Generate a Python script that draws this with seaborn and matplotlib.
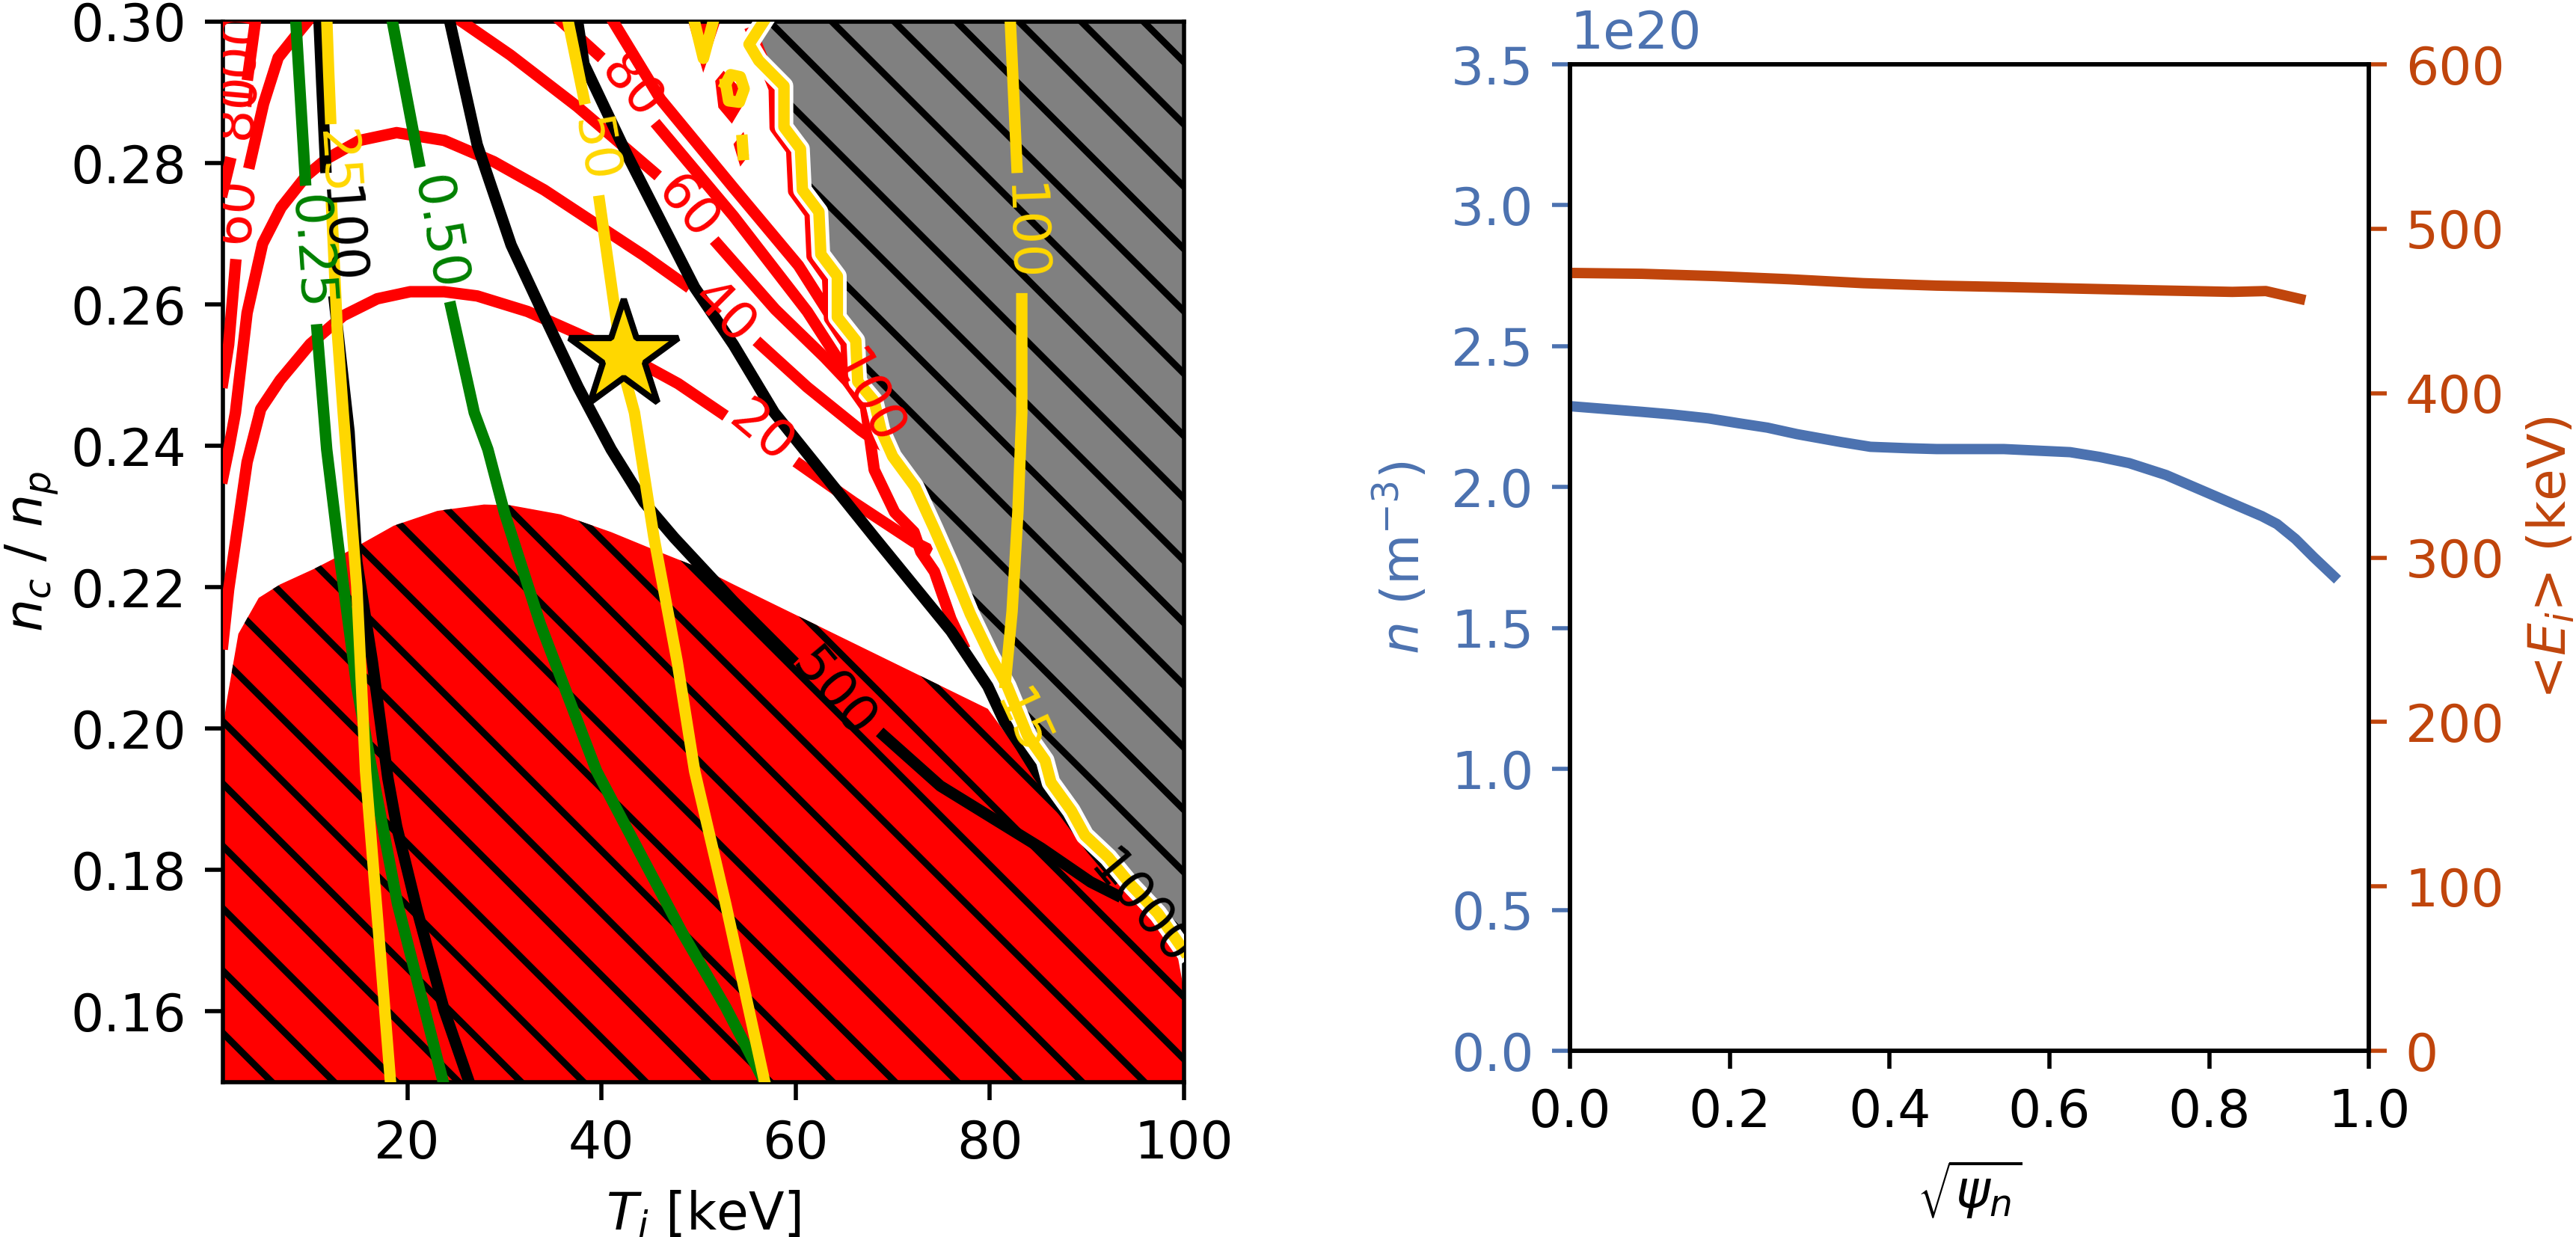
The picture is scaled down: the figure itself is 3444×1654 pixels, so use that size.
import numpy as np
import pandas as pd
import seaborn as sns
import matplotlib
matplotlib.use("Agg")
import matplotlib.pyplot as plt

nan = np.nan

"""
Left panel: traces read off the picture, T_i [keV] vs n_c/n_p.
NaN breaks a trace where the inline contour label sits.
"""
# hatched red region (lower left)
red_fill_T = [1, 1, 1.4, 2.6, 4.7, 6.9, 10.4, 13.8, 18.6, 23.1, 27.9, 30.6, 35.8, 41.0, 46.5,
              50.7, 53.6, 79.8, 82.6, 85.0, 85.7, 87.8, 89.2, 91.6, 94.0, 96.7, 99.4, 100, 100]
red_fill_nc = [0.150, 0.200, 0.2039, 0.2134, 0.2185, 0.2204, 0.2226, 0.2250, 0.2287, 0.2308, 0.2317,
               0.2316, 0.2303, 0.2278, 0.2247, 0.2224, 0.2204, 0.2028, 0.1975, 0.1935, 0.1910, 0.1870,
               0.1840, 0.1808, 0.1768, 0.1728, 0.1675, 0.1630, 0.150]

# jagged boundary of the grey region (yellow trace)
edge_T = [56.7, 55.2, 56.2, 58.8, 58.8, 60.5, 60.7, 62.4, 62.6, 64.3, 64.3, 66.2, 66.4, 68.1, 68.8,
          70.0, 72.3, 74.3, 76.0, 78.0, 80.1, 81.8, 83.9, 85.7, 86.3, 88.4, 89.8, 92.2, 94.6, 97.3, 100.0]
edge_nc = [0.3000, 0.2968, 0.2945, 0.2909, 0.2851, 0.2820, 0.2762, 0.2731, 0.2671, 0.2640, 0.2582,
           0.2549, 0.2491, 0.2463, 0.2422, 0.2385, 0.2342, 0.2282, 0.2229, 0.2162, 0.2102, 0.2060,
           0.1990, 0.1955, 0.1924, 0.1884, 0.1849, 0.1818, 0.1778, 0.1739, 0.1686]
grey_fill_T = [57.4, 55.9, 56.9, 59.5, 59.5, 61.2, 61.4, 63.1, 63.3, 65.0, 65.0, 66.9, 67.1, 68.8, 69.5,
               70.7, 73.0, 75.0, 76.7, 78.7, 80.8, 82.5, 84.6, 86.4, 87.0, 89.1, 90.5, 92.9, 95.3, 98.0,
               100.7, 101, 101, 57.4]
grey_fill_nc = [0.3000, 0.2968, 0.2945, 0.2909, 0.2851, 0.2820, 0.2762, 0.2731, 0.2671, 0.2640, 0.2582,
                0.2549, 0.2491, 0.2463, 0.2422, 0.2385, 0.2342, 0.2282, 0.2229, 0.2162, 0.2102, 0.2060,
                0.1990, 0.1955, 0.1924, 0.1884, 0.1849, 0.1818, 0.1778, 0.1739, 0.1686, 0.1686, 0.301, 0.301]

# red contours
red20_T = [1.0, 1.6, 3.5, 4.9, 6.9, 10.0, 13.4, 16.9, 20.3, 23.8, 27.2, 32.4, 37.5, 42.7, 47.9, 52.3,
           nan, 60.5, 66.0, 72.2, 73.5]
red20_nc = [0.212, 0.2197, 0.2377, 0.2452, 0.2493, 0.2544, 0.2584, 0.2608, 0.2618, 0.2618, 0.2612, 0.2590,
            0.2559, 0.2527, 0.2488, 0.2447, nan, 0.2373, 0.2320, 0.2264, 0.2255]
red40_T = [1.0, 1.6, 2.3, 3.5, 5.1, 7.0, 9.6, 11.7, 15.1, 18.9, 23.8, 28.9, 34.1, 39.3, 44.4, 48.6,
           nan, 56.4, 61.2, 66.7, 69.0]
red40_nc = [0.2355, 0.2395, 0.2447, 0.2588, 0.2686, 0.2737, 0.2782, 0.2806, 0.2832, 0.2843, 0.2832,
            0.2802, 0.2762, 0.2715, 0.2669, 0.2628, nan, 0.2543, 0.2483, 0.2422, 0.2400]
red60_T = [1.0, 1.6, 2.3, nan, 3.8, 5.2, 6.7, 8.5, 10.0, nan, 25.1, 30.6, 37.5, 45.4, nan, 52.0, 57.9, 63.0, 66.8]
red60_nc = [0.2490, 0.2543, 0.2656, nan, 0.2800, 0.2884, 0.2949, 0.2980, 0.3005, nan, 0.3005, 0.2953,
            0.2880, 0.2787, nan, 0.2685, 0.2593, 0.2525, 0.2470]
red80_T = [4.4, 3.6, nan, 1.7, 1.0, nan, 35.5, 39.6, nan, 45.9, 53.6, 61.2, 65.3, 66.5]
red80_nc = [0.3005, 0.2925, nan, 0.2800, 0.2760, nan, 0.3005, 0.2954, nan, 0.2851, 0.2725, 0.2590, 0.2503, 0.2480]
red100_T = [41.0, 46.1, 53.6, 60.3, 64.7, 65.8]
red100_nc = [0.3005, 0.2890, 0.2765, 0.2655, 0.2560, 0.2530]
red_edge_T = [55.5, 57.8, 57.9, 59.6, 59.8, 61.5, 61.7, 63.3, 63.5, 65.2, 65.4, 67.2, 68.1, 70.2, 72.2,
              72.9, 74.3, 76.0, 77.2]
red_edge_nc = [0.2985, 0.2905, 0.2850, 0.2818, 0.2760, 0.2728, 0.2668, 0.2637, 0.2580, 0.2545, 0.2490,
               0.2455, 0.2366, 0.2306, 0.2278, 0.2250, 0.2222, 0.2155, 0.2120]

# black contours
black100_T = [10.9, 11.2, 11.6, nan, 12.5, 14.0, 14.8, 16.4, 18.0, 18.9, 21.0, 23.8, 26.5]
black100_nc = [0.3005, 0.2910, 0.2794, nan, 0.2604, 0.2420, 0.2236, 0.2095, 0.1930, 0.1862, 0.1744, 0.1602, 0.1495]
black500_T = [24.3, 27.2, 30.7, 34.1, 37.6, 41.0, 44.4, 47.5, 53.6, 59.5, nan, 69.1, 74.9, 85.3, 90.4, 93.0]
black500_nc = [0.3005, 0.2826, 0.2684, 0.2584, 0.2483, 0.2395, 0.2320, 0.2270, 0.2180, 0.2099, nan,
               0.1990, 0.1919, 0.1831, 0.1783, 0.1765]
black1000_T = [37.5, 38.2, 42.7, 49.6, 53.6, 57.8, 68.1, 76.0, 79.8, 81.5, 83.2, 85.0, 87.5, 90.5, 93.0]
black1000_nc = [0.3005, 0.2940, 0.2810, 0.2624, 0.2543, 0.2447, 0.2271, 0.2138, 0.2060, 0.2010, 0.1975,
                0.1935, 0.1885, 0.1830, 0.1790]

# green contours
green025_T = [8.5, 9.5, nan, 10.7, 11.7, 13.1, 14.8, 16.3, 19.0, 23.8]
green025_nc = [0.3005, 0.2776, nan, 0.2564, 0.2395, 0.2236, 0.2060, 0.1945, 0.1752, 0.1495]
green050_T = [18.4, 21.2, nan, 24.5, 26.9, 28.3, 30.0, 33.7, 39.5, 44.2, 48.3, 52.8, 57.0]
green050_nc = [0.3005, 0.2802, nan, 0.2596, 0.2447, 0.2395, 0.2306, 0.2148, 0.1940, 0.1818, 0.1712, 0.1606, 0.1495]

# yellow contours
gold25_T = [11.7, 11.9, 12.1, nan, 12.2, 12.8, 13.4, 14.8, 15.7, 17.0, 18.3]
gold25_nc = [0.3005, 0.2930, 0.2863, nan, 0.2740, 0.2560, 0.2447, 0.2201, 0.1940, 0.1720, 0.1495]
gold50_T = [36.5, 38.2, nan, 39.8, 42.3, 43.4, 45.4, 47.8, 49.6, 52.8, 56.9]
gold50_nc = [0.3005, 0.2891, nan, 0.2746, 0.2503, 0.2447, 0.2271, 0.2095, 0.1940, 0.1752, 0.1495]
gold100_T = [82.1, 82.8, nan, 83.3, 83.3, 82.9, 82.3, 81.6]
gold100_nc = [0.3005, 0.2794, nan, 0.2608, 0.2447, 0.2307, 0.2166, 0.2065]

# small noisy islands near the top
blob_red_T = [[49.0, 50.5, 52.2], [52.0, 52.6, 54.0, 54.4, 53.4, 52.3], [53.9, 54.5, 54.9, 54.4]]
blob_red_nc = [[0.301, 0.2940, 0.301], [0.2915, 0.2925, 0.2905, 0.2885, 0.2862, 0.2880],
               [0.2826, 0.2836, 0.2812, 0.2803]]
blob_gold_T = [[49.4, 50.5, 51.7], [52.8, 53.3, 54.3, 54.7, 54.2, 53.1, 52.8], [54.5, 54.6]]
blob_gold_nc = [[0.301, 0.2948, 0.301], [0.2912, 0.2925, 0.2922, 0.2905, 0.2886, 0.2888, 0.2912],
                [0.2832, 0.2812]]

# operating point
star_T, star_nc = 42.3, 0.2527

# inline labels: text, T, n_c/n_p, rotation, colour key
contour_labels = [
    ("20", 56.5, 0.2418, -40, "r"), ("40", 52.6, 0.2588, -45, "r"), ("60", 48.8, 0.2737, -50, "r"),
    ("80", 43.0, 0.2907, -50, "r"), ("100", 67.2, 0.2467, -62, "r"),
    ("60", 2.3, 0.2733, 85, "r"), ("80", 2.5, 0.2880, 85, "r"), ("100", 2.4, 0.2950, 85, "r"),
    ("100", 12.9, 0.2697, -86, "k"), ("500", 63.9, 0.2049, -50, "k"), ("1000", 95.5, 0.1745, -50, "k"),
    ("0.25", 10.0, 0.2673, -86, "g"), ("0.50", 23.1, 0.2701, -80, "g"),
    ("25", 12.6, 0.2800, -86, "y"), ("50", 39.2, 0.2818, -80, "y"), ("100", 83.3, 0.2701, -88, "y"),
    ("15", 83.2, 0.2007, -65, "y"),
]

"""
Right panel: profiles vs sqrt(psi_n)
"""
psi_n = [0.005, 0.09, 0.127, 0.173, 0.21, 0.247, 0.284, 0.339, 0.376, 0.422, 0.459, 0.543, 0.626,
         0.663, 0.70, 0.746, 0.792, 0.829, 0.866, 0.885, 0.908, 0.931, 0.956]
dens_1e20 = [2.286, 2.267, 2.258, 2.244, 2.227, 2.211, 2.188, 2.160, 2.143, 2.138, 2.135, 2.135, 2.124,
             2.107, 2.085, 2.043, 1.987, 1.942, 1.897, 1.869, 1.816, 1.751, 1.684]
psi_E = [0.005, 0.09, 0.182, 0.274, 0.367, 0.459, 0.552, 0.644, 0.737, 0.829, 0.871, 0.914]
E_mean = [473.1, 472.6, 471.2, 469.3, 466.9, 465.4, 464.5, 463.5, 462.5, 461.6, 462.1, 457.3]

COLORS = {"r": "#ff0000", "k": "black", "g": "#008000", "y": "#ffd700"}
BLUE = "#4c72b0"
RUST = "#c0450c"

plt.rcParams["hatch.linewidth"] = 1.3
fig = plt.figure(figsize=(3444 / 500, 1654 / 500), dpi=500)

# ---- left panel ----
ax = fig.add_axes([0.0865, 0.1252, 0.3731, 0.8573])
ax.fill(red_fill_T, red_fill_nc, facecolor="red", edgecolor="black", hatch="\\\\", linewidth=0, zorder=1)
ax.fill(grey_fill_T, grey_fill_nc, facecolor="grey", edgecolor="black", hatch="\\\\", linewidth=0, zorder=1)
for bt, bn in zip(blob_red_T, blob_red_nc):
    ax.fill(bt, bn, color="red", zorder=2)

lw = 2.2
for T, nc in [(red20_T, red20_nc), (red40_T, red40_nc), (red60_T, red60_nc), (red80_T, red80_nc),
              (red100_T, red100_nc), (red_edge_T, red_edge_nc)]:
    ax.plot(T, nc, color=COLORS["r"], lw=lw, zorder=3)
for T, nc in [(green025_T, green025_nc), (green050_T, green050_nc)]:
    ax.plot(T, nc, color=COLORS["g"], lw=lw, zorder=3)
for T, nc in [(black100_T, black100_nc), (black500_T, black500_nc), (black1000_T, black1000_nc)]:
    ax.plot(T, nc, color=COLORS["k"], lw=lw, zorder=4)
ax.plot(edge_T, edge_nc, color="white", lw=3.6, zorder=4)
for T, nc in [(gold25_T, gold25_nc), (gold50_T, gold50_nc), (gold100_T, gold100_nc), (edge_T, edge_nc)]:
    ax.plot(T, nc, color=COLORS["y"], lw=lw, zorder=5)
for bt, bn in zip(blob_gold_T, blob_gold_nc):
    ax.plot(bt, bn, color=COLORS["y"], lw=lw, zorder=5)

for txt, tx, ty, rot, c in contour_labels:
    ax.text(tx, ty, txt, color=COLORS[c], rotation=rot, ha="center", va="center",
            fontsize=10, zorder=6, clip_on=True, rotation_mode="anchor")

ax.plot([star_T], [star_nc], marker="*", ms=22, mfc="#ffd700", mec="black", mew=1.2, zorder=7)

ax.set_xlim(1, 100)
ax.set_ylim(0.15, 0.30)
ax.set_xticks([20, 40, 60, 80, 100])
ax.set_yticks(np.round(np.arange(0.16, 0.301, 0.02), 2))
ax.set_xlabel(r"$T_i$ [keV]")
ax.set_ylabel(r"$n_c$ / $n_p$", labelpad=2)

# ---- right panel ----
axr = fig.add_axes([0.6095, 0.1505, 0.3101, 0.7975])
dens = pd.DataFrame({"psi": psi_n, "n": np.array(dens_1e20) * 1e20})
sns.lineplot(data=dens, x="psi", y="n", color=BLUE, lw=2, sort=False, estimator=None, ax=axr)
axr.set_xlim(0, 1)
axr.set_ylim(0, 3.5e20)
axr.set_yticks(np.arange(0, 3.51e20, 0.5e20))
axr.tick_params(axis="y", colors=BLUE)
axr.yaxis.get_offset_text().set_color(BLUE)
axr.set_ylabel(r"$n$ (m$^{-3}$)", color=BLUE)
axr.set_xlabel(r"$\sqrt{\psi_n}$")

axe = axr.twinx()
energy = pd.DataFrame({"psi": psi_E, "E": E_mean})
sns.lineplot(data=energy, x="psi", y="E", color=RUST, lw=2, sort=False, estimator=None, ax=axe)
axe.set_ylim(0, 600)
axe.tick_params(axis="y", colors=RUST)
axe.set_ylabel(r"<$E_i$> (keV)", color=RUST)

fig.savefig("out.png", dpi=500)
